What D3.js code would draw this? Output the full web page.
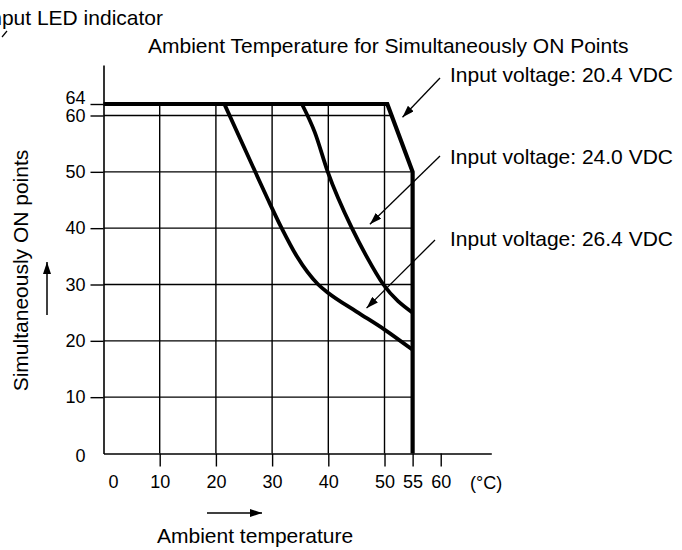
<!DOCTYPE html>
<html>
<head>
<meta charset="utf-8">
<script src="https://cdn.jsdelivr.net/npm/d3@7"></script>
<style>
  html, body { margin: 0; padding: 0; background: #fff; }
  svg { display: block; }
  text { font-family: "Liberation Sans", Arial, Helvetica, sans-serif; fill: #000; }
</style>
</head>
<body>
<svg id="chart" width="682" height="550"></svg>
<script>
// Derating data: simultaneously ON points vs. ambient temperature (°C)
const tempTicks = [0, 10, 20, 30, 40, 50, 55, 60];
const pointTicks = [0, 10, 20, 30, 40, 50, 60, 64];
const tempLabels = ["0", "10", "20", "30", "40", "50", "55", "60"];
const pointLabels = ["0", "10", "20", "30", "40", "50", "60", "64"];

const seriesNames = ["Input voltage: 20.4 VDC", "Input voltage: 24.0 VDC", "Input voltage: 26.4 VDC"];
const curve204 = [[0, 64], [50.5, 64], [55, 50], [55, 0]];
const curve240 = [[35.3, 64], [37.6, 57], [39.9, 50], [44.2, 40], [46.8, 35], [49.8, 30], [55, 25]];
const curve264 = [[21.5, 64], [27, 50], [29.3, 45], [31.7, 40], [34.4, 35], [38.2, 30], [40, 28.5], [45, 25.2], [50, 22], [55, 18.4]];
// where each leader arrow points on its curve (temperature, points)
const arrowTips = [[53.2, 59.7], [47.4, 40.7], [46.8, 25.8]];

const svg = d3.select("#chart");

// Scales: the y axis is compressed between 60 and 64
const x = d3.scaleLinear().domain([0, 69]).range([103.5, 491.3]);
const y = d3.scaleLinear().domain([0, 60, 64, 70]).range([453.5, 115.5, 104, 65]);

// Marker for leader arrows
const defs = svg.append("defs");
defs.append("marker")
  .attr("id", "head")
  .attr("viewBox", "0 0 12 8")
  .attr("refX", 12).attr("refY", 4)
  .attr("markerWidth", 12).attr("markerHeight", 8)
  .attr("markerUnits", "userSpaceOnUse")
  .attr("orient", "auto")
  .append("path").attr("d", "M0,0 L12,4 L0,8 Z").attr("fill", "#000");

// Clip grid to the area under the 20.4 VDC envelope
const envelope = [[0, 0]].concat(curve204);
defs.append("clipPath").attr("id", "env")
  .append("path")
  .attr("d", d3.line().x(d => x(d[0])).y(d => y(d[1]))(envelope) + "Z");

// Grid
const grid = svg.append("g").attr("clip-path", "url(#env)")
  .attr("stroke", "#000").attr("stroke-width", 1.4);
grid.selectAll("line.v").data(tempTicks.filter(t => t > 0 && t < 55)).join("line")
  .attr("x1", d => x(d)).attr("x2", d => x(d))
  .attr("y1", y(0)).attr("y2", y(64));
grid.selectAll("line.h").data(pointTicks.filter(t => t > 0 && t < 64)).join("line")
  .attr("x1", x(0)).attr("x2", x(55))
  .attr("y1", d => y(d)).attr("y2", d => y(d));

// Axes
const xAxis = svg.append("g")
  .attr("transform", `translate(0,${y(0)})`)
  .call(d3.axisBottom(x).tickValues(tempTicks).tickSize(13).tickSizeOuter(0)
    .tickFormat((d, i) => tempLabels[i]));
const yAxis = svg.append("g")
  .attr("transform", `translate(${x(0)},0)`)
  .call(d3.axisLeft(y).tickValues(pointTicks).tickSize(13).tickSizeOuter(0)
    .tickFormat((d, i) => pointLabels[i]));

[xAxis, yAxis].forEach(g => {
  g.select(".domain").attr("stroke", "#000").attr("stroke-width", 1.6);
  g.selectAll(".tick line").attr("stroke", "#000").attr("stroke-width", 1.4)
    .attr("display", d => d === 0 ? "none" : null);
  g.selectAll(".tick text").attr("font-size", 18)
    .attr("font-family", "'Liberation Sans', Arial, sans-serif");
});
xAxis.selectAll(".tick text").attr("y", 21.5)
  .attr("dx", d => d === 0 ? 9.5 : 0);
yAxis.selectAll(".tick text").attr("x", -18)
  .attr("dy", d => d === 64 ? "-0.05em" : d === 0 ? "0.45em" : "0.32em");

svg.append("text").attr("x", 470).attr("y", 488.5).attr("font-size", 18).text("(°C)");

// Curves
const line = d3.line().x(d => x(d[0])).y(d => y(d[1]));
svg.append("path").datum(curve204)
  .attr("d", line).attr("fill", "none").attr("stroke", "#000")
  .attr("stroke-width", 4.2).attr("stroke-linejoin", "miter");
[curve240, curve264].forEach(c => {
  svg.append("path").datum(c)
    .attr("d", line.curve(d3.curveMonotoneX)).attr("fill", "none").attr("stroke", "#000")
    .attr("stroke-width", 3.8).attr("stroke-linecap", "butt");
});

// Series labels with leader arrows
const labelX = 450;
const labelBase = [82, 164, 246];
const tailOffset = [[-10, -4], [-10, -8], [-15, -6]];
seriesNames.forEach((name, i) => {
  svg.append("text").attr("x", labelX).attr("y", labelBase[i])
    .attr("font-size", 21).text(name);
  svg.append("line")
    .attr("x1", labelX + tailOffset[i][0]).attr("y1", labelBase[i] + tailOffset[i][1])
    .attr("x2", x(arrowTips[i][0])).attr("y2", y(arrowTips[i][1]))
    .attr("stroke", "#000").attr("stroke-width", 1.3)
    .attr("marker-end", "url(#head)");
});

// Titles
svg.append("text").attr("x", 163).attr("y", 25).attr("text-anchor", "end")
  .attr("font-size", 21).text("Input LED indicator");
svg.append("line").attr("x1", 2).attr("y1", 37).attr("x2", 7).attr("y2", 31)
  .attr("stroke", "#000").attr("stroke-width", 1.2);
svg.append("text").attr("x", 148).attr("y", 53)
  .attr("font-size", 21).text("Ambient Temperature for Simultaneously ON Points");

// Axis titles with direction arrows
svg.append("text")
  .attr("transform", "translate(28,270.5) rotate(-90)")
  .attr("text-anchor", "middle").attr("font-size", 21)
  .text("Simultaneously ON points");
svg.append("line").attr("x1", 47).attr("y1", 315).attr("x2", 47).attr("y2", 262)
  .attr("stroke", "#000").attr("stroke-width", 1.5).attr("marker-end", "url(#head)");

svg.append("text").attr("x", 157).attr("y", 543).attr("font-size", 21)
  .text("Ambient temperature");
svg.append("line").attr("x1", 207).attr("y1", 513).attr("x2", 262).attr("y2", 513)
  .attr("stroke", "#000").attr("stroke-width", 1.5).attr("marker-end", "url(#head)");
</script>
</body>
</html>
